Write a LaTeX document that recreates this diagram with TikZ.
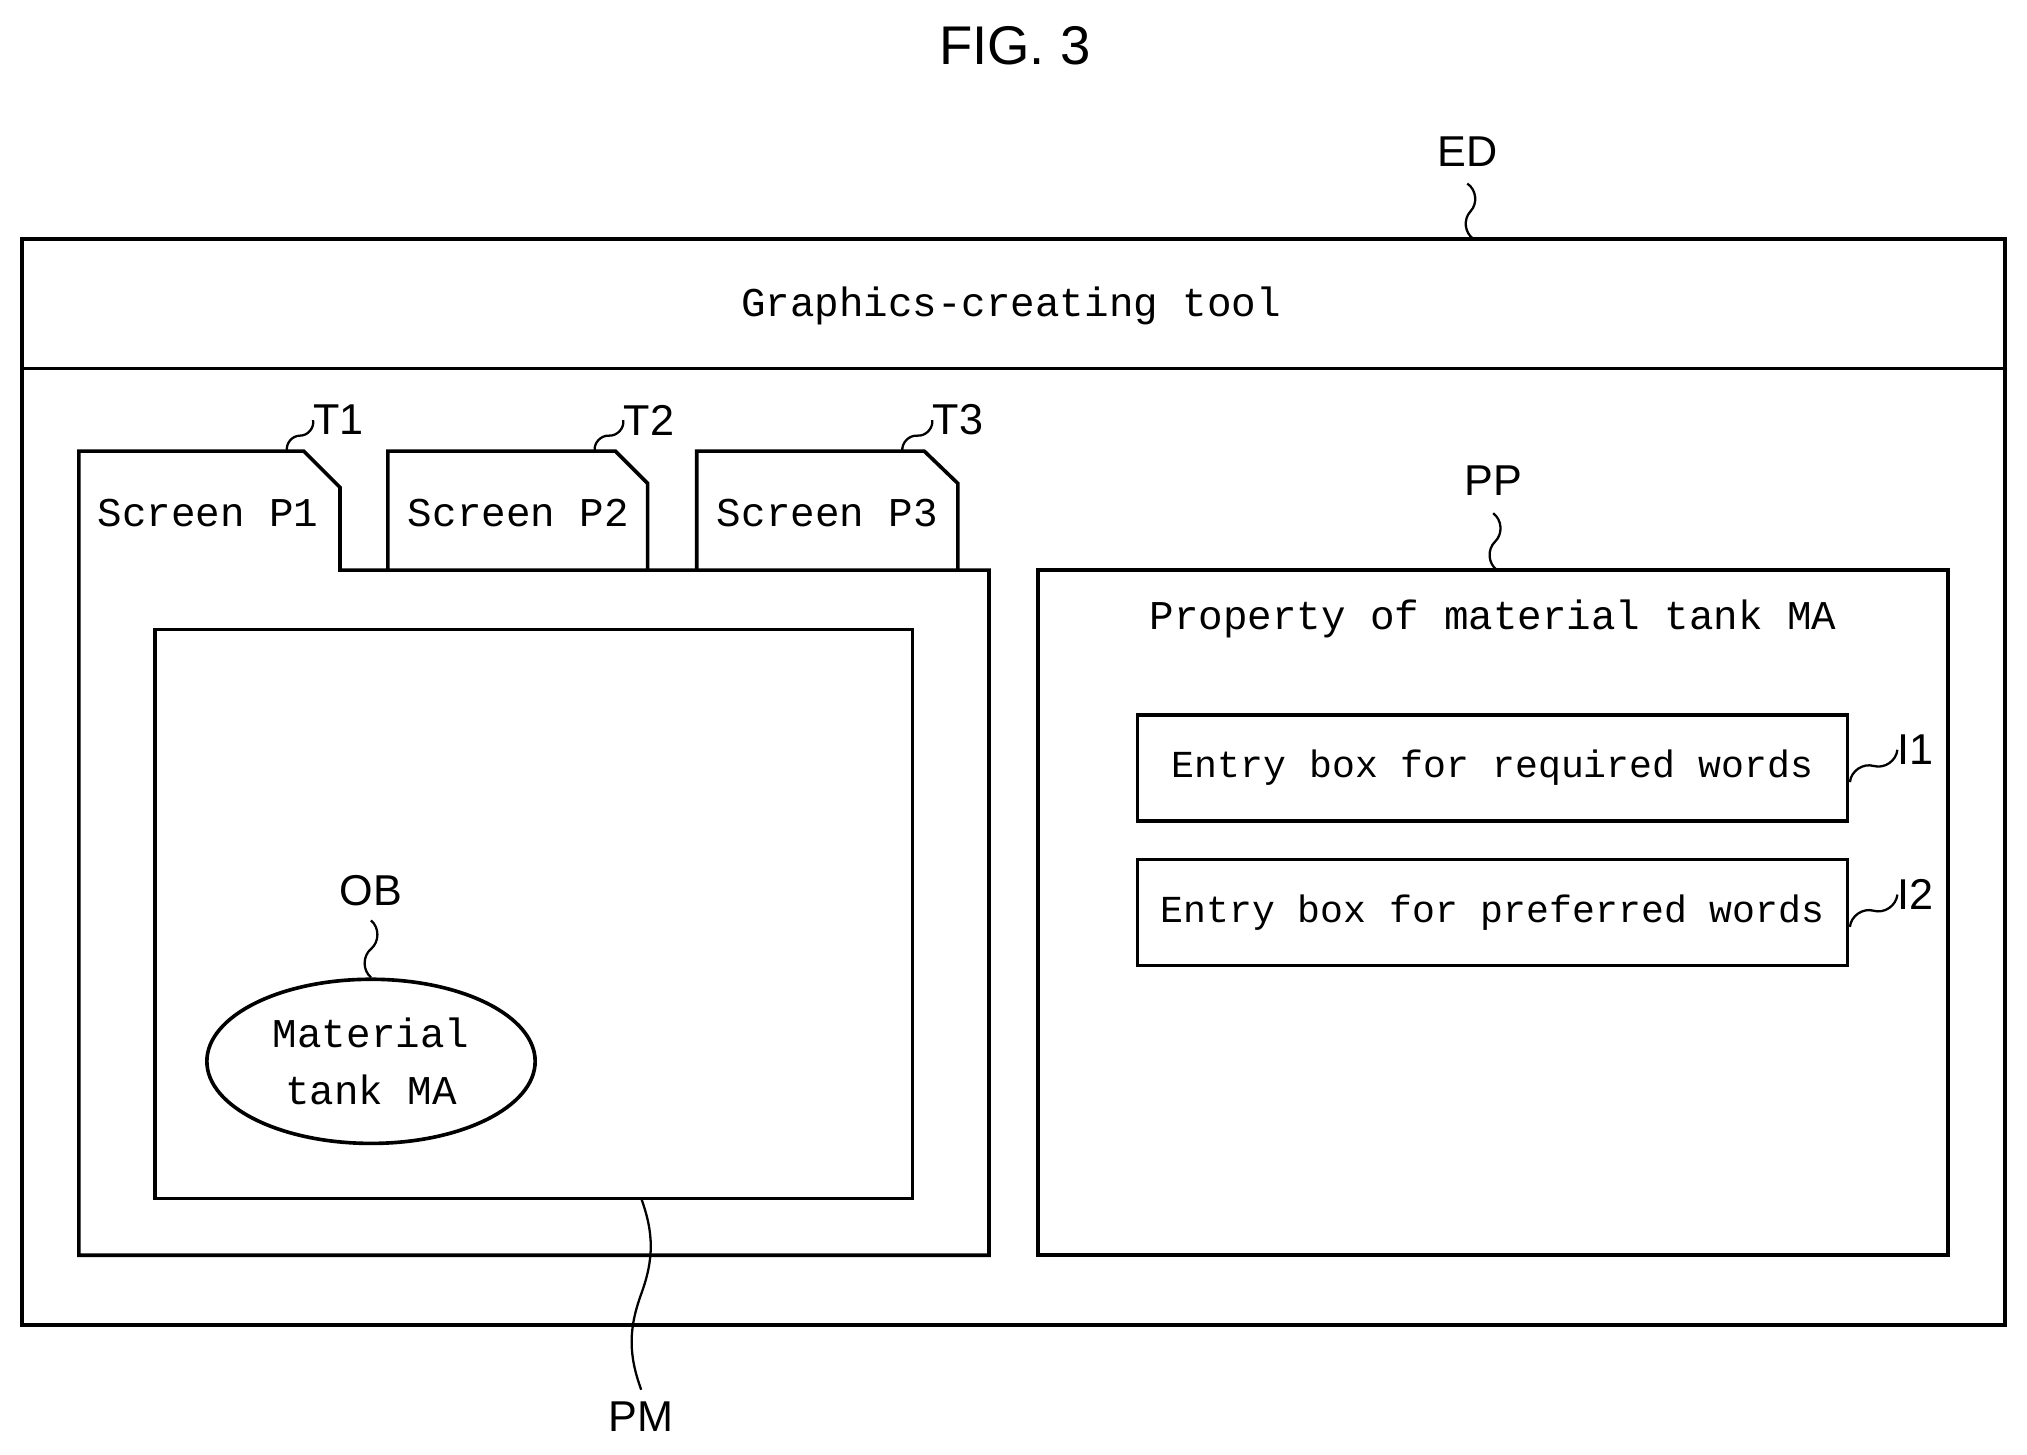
\documentclass[tikz,border=0pt]{standalone}
\usepackage{fontspec}
\setmainfont{Liberation Sans}
\newfontfamily\gothic{Liberation Mono}
\usetikzlibrary{calc,shapes.geometric}
\tikzset{
  box/.style={draw, line width=1.6pt},
  txt/.style={font=\gothic\fontsize{18}{25}\selectfont, inner sep=0pt},
  entry/.style={font=\gothic\fontsize{16.8}{22}\selectfont, inner sep=0pt},
  lbl/.style={font=\fontsize{19}{22}\selectfont, inner sep=0pt},
  lead/.style={line width=1pt}
}
\newcommand{\wave}[3][50]{\draw[lead] (#2) to[bend left=#1] ($(#2)!0.5!(#3)$) to[bend right=#1] (#3);}
\begin{document}
\begin{tikzpicture}[x=0.02cm,y=-0.02cm]
		\useasboundingbox (0,0) rectangle (1568,1125);
		\node[lbl, font=\fontsize{24}{28}\selectfont] (fig) at (785,35) {FIG. 3};

		% editor window
		\draw[box] (17,185) rectangle (1551,1025);
		\draw[box] (17,285) -- (1551,285);
		\node[txt] (title) at (782,237) {Graphics-creating tool};
		\node[lbl] (ED) at (1135,117) {ED};
		\coordinate (ed1) at (1135,142);
		\coordinate (ed2) at (1140,185);
		\wave{ed1}{ed2}

		% screen area with tabs
		\draw[box] (61,441) -- (61,349) -- (235,349) -- (263,377) -- (263,441) -- (765,441)
			-- (765,971) -- (61,971) -- cycle;
		\draw[box] (300,441) -- (300,349) -- (476,349) -- (501,374) -- (501,441);
		\draw[box] (539,441) -- (539,349) -- (715,349) -- (741,374) -- (741,441);
		\node[txt] (P1) at (161,397) {Screen P1};
		\node[txt] (P2) at (401,397) {Screen P2};
		\node[txt] (P3) at (640,397) {Screen P3};
		\node[lbl] (T1) at (262,325) {T1};
		\node[lbl] (T2) at (502,325) {T2};
		\node[lbl] (T3) at (741,325) {T3};
		\coordinate (t1) at (222,349);
		\coordinate (t2) at (460,349);
		\coordinate (t3) at (698,349);
		\wave{t1}{T1.west}
		\wave{t2}{T2.west}
		\wave{t3}{T3.west}

		\draw[box] (120,487) rectangle (706,927);
		\node[draw, line width=1.6pt, ellipse, txt, align=center,
			minimum width=5.08cm, minimum height=2.54cm] (OBj) at (287,821) {Material\\tank MA};
		\node[lbl] (OB) at (287,689) {OB};
		\coordinate (ob1) at (287,712);
		\wave{ob1}{OBj.north}
		\node[lbl] (PM) at (496,1096) {PM};
		\coordinate (pm1) at (496,927);
		\coordinate (pm2) at (496,1075);
		\wave[20]{pm1}{pm2}

		% property panel
		\draw[box] (803,441) rectangle (1507,971);
		\node[txt] (prop) at (1155,479) {Property of material tank MA};
		\node[lbl] (PP) at (1155,372) {PP};
		\coordinate (pp1) at (1155,397);
		\coordinate (pp2) at (1158,441);
		\wave{pp1}{pp2}
		\draw[box] (880,553) rectangle (1429,635);
		\draw[box] (880,665) rectangle (1429,747);
		\node[entry] (in1) at (1154.5,594) {Entry box for required words};
		\node[entry] (in2) at (1154.5,706) {Entry box for preferred words};
		\node[lbl] (I1) at (1482,580) {I1};
		\node[lbl] (I2) at (1482,692) {I2};
		\coordinate (i1) at (1431,605);
		\coordinate (i2) at (1431,717);
		\wave{i1}{I1.west}
		\wave{i2}{I2.west}
	\end{tikzpicture}
\end{document}
